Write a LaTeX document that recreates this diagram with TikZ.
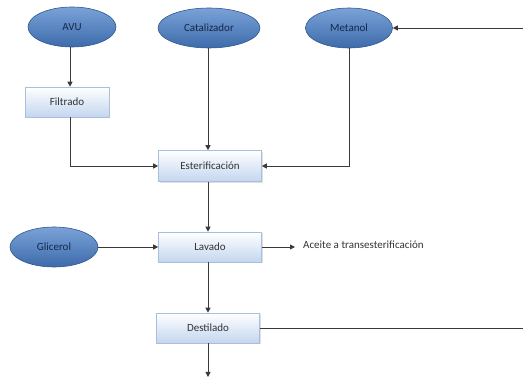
\documentclass[tikz,border=0pt]{standalone}
\usepackage{fontspec}
\setmainfont{Carlito}
\usetikzlibrary{shapes.geometric,arrows.meta,shadows}
\definecolor{ellTop}{HTML}{7AA2D8}
\definecolor{ellBot}{HTML}{3D6BAA}
\definecolor{ellLine}{HTML}{2F5590}
\definecolor{txtBlue}{HTML}{14284A}
\definecolor{boxBot}{HTML}{C3D6EF}
\definecolor{boxLine}{HTML}{A9BFDC}
\definecolor{lineGray}{HTML}{3A3A3A}
\begin{document}
\begin{tikzpicture}[x=1pt,y=-1pt,
  feed/.style={ellipse,draw=ellLine,line width=0.6pt,top color=ellTop,bottom color=ellBot,
    minimum width=88pt,minimum height=40pt,inner sep=0pt,text=txtBlue,font=\fontsize{11}{13}\selectfont},
  proc/.style={rectangle,draw=boxLine,line width=0.6pt,top color=white,bottom color=boxBot,
    minimum width=103pt,minimum height=30pt,inner sep=0pt,text=black!80,font=\fontsize{11}{13}\selectfont,
    drop shadow={shadow xshift=1pt,shadow yshift=-1.5pt,fill=black!25}},
  conn/.style={draw=lineGray,line width=0.8pt},
  arr/.style={conn,-{Triangle[length=5pt,width=5pt]}}]
\useasboundingbox (0,0) rectangle (523,377);
\node[feed] (avu) at (72,27) {AVU};
\node[feed,minimum width=102pt] (cat) at (209,28) {Catalizador};
\node[feed,minimum width=87pt] (met) at (349,28) {Metanol};
\node[feed] (gli) at (54,247) {Glicerol};
\node[proc,minimum width=84pt] (fil) at (67,102) {Filtrado};
\node[proc,minimum height=31pt] (est) at (210,166) {Esterificación};
\node[proc] (lav) at (210,247) {Lavado};
\node[proc] (des) at (208,328) {Destilado};
\node[anchor=west,inner sep=0pt,text=black!80,font=\fontsize{11}{13}\selectfont] (ace) at (303,245) {Aceite a transesterificación};
\coordinate (rin) at (523,28);
\coordinate (rout) at (523,328);
\coordinate (bout) at (208,377);
\coordinate (aceend) at (295,247);
\draw[arr] (rin) -- (met.east);
\draw[arr] (avu.south -| 70,0) -- (fil.north -| 70,0);
\draw[arr] (fil.south -| 70,0) |- (est.west);
\draw[arr] (cat.south -| 208,0) -- (est.north -| 208,0);
\draw[arr] (met.south) |- (est.east);
\draw[arr] (est.south -| 208,0) -- (lav.north -| 208,0);
\draw[arr] (gli.east) -- (lav.west);
\draw[arr] (lav.east) -- (aceend);
\draw[arr] (lav.south -| 208,0) -- (des.north);
\draw[conn] (des.east) -- (rout);
\draw[arr] (des.south) -- (bout);
\end{tikzpicture}
\end{document}
